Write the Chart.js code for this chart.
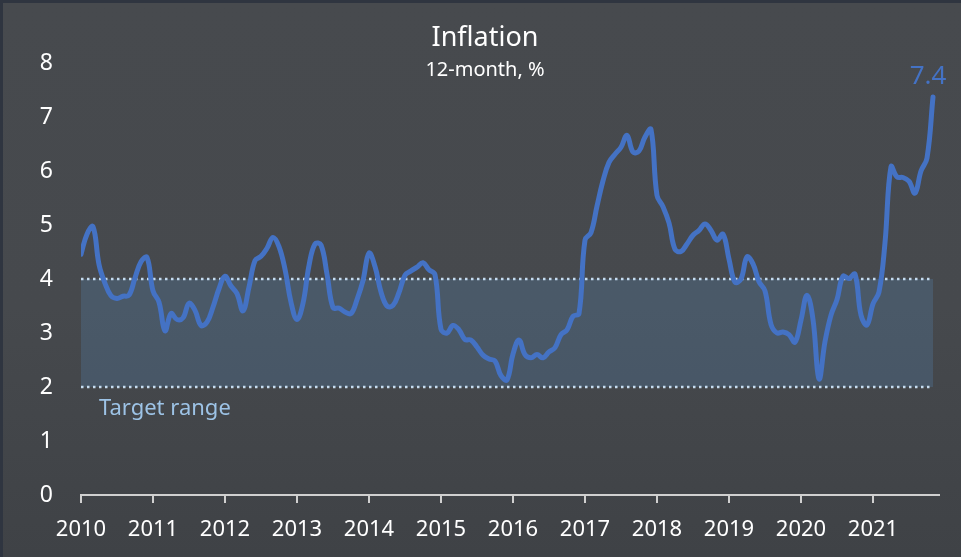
<!DOCTYPE html>
<html>
<head>
<meta charset="utf-8">
<script src="https://cdn.jsdelivr.net/npm/chart.js@4"></script>
<style>
  html, body { margin: 0; padding: 0; }
  body {
    width: 961px; height: 557px; overflow: hidden;
    background: linear-gradient(180deg, #474a4e 0%, #46494d 55%, #3f4246 100%);
  }
  #wrap { position: relative; width: 961px; height: 557px; }
  .edge { position: absolute; background: #2f3540; }
  .edge.top { left: 0; top: 0; width: 961px; height: 3px; }
  .edge.left { left: 0; top: 0; width: 3px; height: 557px; }
  canvas { position: absolute; left: 0; top: 0; }
</style>
</head>
<body>
<div id="wrap">
  <div class="edge top"></div>
  <div class="edge left"></div>
  <canvas id="inflation" width="961" height="557"></canvas>
</div>
<script>
// inflation chart, monthly 12-month % from Jan 2010 to Nov 2021

const years = ['2010', '2011', '2012', '2013', '2014', '2015', '2016', '2017', '2018', '2019', '2020', '2021'];
const yTicks = [0, 1, 2, 3, 4, 5, 6, 7, 8];
const targetRange = [2, 4];

const y2010 = [4.46, 4.83, 4.97, 4.27, 3.92, 3.69, 3.64, 3.68, 3.70, 4.02, 4.32, 4.40];
const y2011 = [3.78, 3.57, 3.04, 3.36, 3.25, 3.28, 3.55, 3.42, 3.14, 3.20, 3.48, 3.82];
const y2012 = [4.05, 3.87, 3.73, 3.41, 3.85, 4.34, 4.42, 4.57, 4.77, 4.60, 4.18, 3.57];
const y2013 = [3.25, 3.55, 4.25, 4.65, 4.63, 4.09, 3.47, 3.46, 3.39, 3.36, 3.62, 3.97];
const y2014 = [4.48, 4.23, 3.76, 3.50, 3.51, 3.75, 4.07, 4.15, 4.22, 4.30, 4.17, 4.08];
const y2015 = [3.07, 3.00, 3.14, 3.06, 2.88, 2.87, 2.74, 2.59, 2.52, 2.48, 2.21, 2.13];
const y2016 = [2.61, 2.87, 2.60, 2.54, 2.60, 2.54, 2.65, 2.73, 2.97, 3.06, 3.31, 3.36];
const y2017 = [4.72, 4.86, 5.35, 5.82, 6.16, 6.31, 6.44, 6.66, 6.35, 6.37, 6.63, 6.77];
const y2018 = [5.55, 5.34, 5.04, 4.55, 4.51, 4.65, 4.81, 4.90, 5.02, 4.90, 4.72, 4.83];
const y2019 = [4.37, 3.94, 4.00, 4.41, 4.28, 3.95, 3.78, 3.16, 3.00, 3.02, 2.97, 2.83];
const y2020 = [3.24, 3.70, 3.25, 2.15, 2.84, 3.33, 3.62, 4.05, 4.01, 4.09, 3.33, 3.15];
const y2021 = [3.54, 3.76, 4.67, 6.08, 5.89, 5.88, 5.81, 5.59, 6.00, 6.24, 7.37];

const inflation = [].concat(y2010, y2011, y2012, y2013, y2014, y2015,
                            y2016, y2017, y2018, y2019, y2020, y2021);

const FONT = '"Noto Sans", "Open Sans", sans-serif';
const LINE_BLUE = '#4472c4';

// x = month index since Jan 2010
const points = inflation.map((v, i) => ({ x: i, y: v }));
const lastIdx = inflation.length - 1;

// band 2-4 % with dotted edges, drawn under the line
const targetBand = {
  id: 'targetBand',
  beforeDatasetsDraw(chart) {
    const { ctx, scales: { x, y } } = chart;
    const x0 = x.getPixelForValue(0);
    const x1 = x.getPixelForValue(lastIdx);
    const yLo = y.getPixelForValue(targetRange[0]);
    const yHi = y.getPixelForValue(targetRange[1]);
    ctx.save();
    ctx.fillStyle = 'rgba(91, 155, 213, 0.2)';
    ctx.fillRect(x0, yHi, x1 - x0, yLo - yHi);
    ctx.strokeStyle = '#c5dcf0';
    ctx.lineWidth = 2.5;
    ctx.setLineDash([2.5, 3.5]);
    [yHi, yLo].forEach(py => {
      ctx.beginPath();
      ctx.moveTo(x0, py);
      ctx.lineTo(x1, py);
      ctx.stroke();
    });
    ctx.setLineDash([]);
    ctx.fillStyle = '#9dc3e6';
    ctx.font = '22px ' + FONT;
    ctx.textAlign = 'left';
    ctx.textBaseline = 'middle';
    ctx.fillText('Target range', x0 + 18, yLo + 22);
    ctx.restore();
  }
};

// titles + value of last point
const decorations = {
  id: 'decorations',
  afterDraw(chart) {
    const { ctx } = chart;
    ctx.save();
    ctx.textAlign = 'center';
    ctx.textBaseline = 'middle';
    ctx.fillStyle = '#ffffff';
    ctx.font = '27px ' + FONT;
    ctx.fillText('Inflation', 485, 38);
    ctx.font = '20px ' + FONT;
    ctx.fillText('12-month, %', 485, 70);

    const pt = chart.getDatasetMeta(0).data[lastIdx];
    ctx.fillStyle = LINE_BLUE;
    ctx.font = '26px ' + FONT;
    ctx.textBaseline = 'alphabetic';
    ctx.fillText(inflation[lastIdx].toFixed(1), pt.x - 5, pt.y - 13);
    ctx.restore();
  }
};

const ctx = document.getElementById('inflation').getContext('2d');
new Chart(ctx, {
  type: 'line',
  data: {
    datasets: [{
      label: 'Inflation',
      data: points,
      borderColor: LINE_BLUE,
      borderWidth: 5,
      borderCapStyle: 'round',
      borderJoinStyle: 'round',
      pointRadius: 0,
      tension: 0.4,
      fill: false
    }]
  },
  options: {
    responsive: false,
    animation: false,
    layout: { padding: { left: 0, right: 22, top: 63, bottom: 0 } },
    plugins: {
      legend: { display: false },
      tooltip: { enabled: false }
    },
    scales: {
      x: {
        type: 'linear',
        min: 0,
        max: 143,
        afterFit(scale) { scale.height = 62; },
        afterBuildTicks(scale) {
          scale.ticks = years.map((y, i) => ({ value: i * 12 }));
        },
        border: { display: true, color: '#d0d0d0', width: 2 },
        grid: {
          drawOnChartArea: false,
          drawTicks: true,
          tickLength: 8,
          color: '#d0d0d0',
          lineWidth: 2
        },
        ticks: {
          autoSkip: false,
          maxRotation: 0,
          padding: 14,
          color: '#ffffff',
          font: { family: FONT, size: 22 },
          callback: (v) => years[v / 12]
        }
      },
      y: {
        min: 0,
        max: 8,
        afterFit(scale) { scale.width = 81; },
        afterBuildTicks(scale) {
          scale.ticks = yTicks.map(v => ({ value: v }));
        },
        border: { display: false },
        grid: { display: false, drawTicks: false },
        ticks: {
          padding: 28,
          color: '#ffffff',
          font: { family: FONT, size: 23 }
        }
      }
    }
  },
  plugins: [targetBand, decorations]
});
</script>
</body>
</html>
